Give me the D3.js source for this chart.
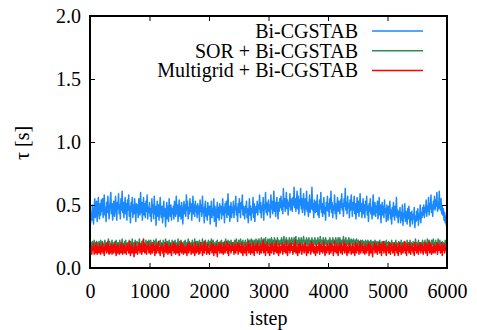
<!DOCTYPE html>
<html>
<head>
<meta charset="utf-8">
<script src="https://cdn.jsdelivr.net/npm/d3@7"></script>
<style>
  html, body { margin: 0; padding: 0; background: #fff; }
  svg { display: block; }
  text { font-family: "Liberation Serif", "Times New Roman", "DejaVu Serif", serif; fill: #000; }
</style>
</head>
<body>
<svg id="chart" width="477" height="330"></svg>
<script>
// Time per step, sampled every 10 steps from 0 to 6000
const stepInterval = 10;
const xTicks = [0, 1000, 2000, 3000, 4000, 5000, 6000];
const yTicks = [0.0, 0.5, 1.0, 1.5, 2.0];
const seriesNames = ["Bi-CGSTAB", "SOR + Bi-CGSTAB", "Multigrid + Bi-CGSTAB"];
const seriesColors = ["#1a88ff", "#2e8b57", "#ff0000"];

const biCgstab = [
  0.32,0.36,0.44,0.38,0.50,0.41,0.35,0.48,0.55,0.40,0.47,0.53,0.37,0.44,0.56,0.46,0.39,0.51,0.42,0.54,
  0.45,0.55,0.40,0.50,0.58,0.42,0.48,0.37,0.52,0.44,0.57,0.49,0.39,0.46,0.54,0.60,0.43,0.51,0.38,0.49,
  0.53,0.41,0.49,0.57,0.45,0.38,0.52,0.47,0.59,0.43,0.50,0.39,0.55,0.46,0.61,0.44,0.52,0.40,0.48,0.56,
  0.43,0.51,0.38,0.54,0.46,0.58,0.41,0.49,0.36,0.52,0.45,0.56,0.40,0.50,0.43,0.55,0.47,0.37,0.51,0.44,
  0.50,0.40,0.55,0.46,0.42,0.60,0.44,0.52,0.38,0.49,0.56,0.42,0.51,0.40,0.53,0.45,0.58,0.39,0.48,0.44,
  0.52,0.41,0.47,0.37,0.55,0.44,0.50,0.39,0.57,0.43,0.49,0.34,0.45,0.53,0.41,0.50,0.38,0.47,0.56,0.43,
  0.40,0.49,0.36,0.45,0.53,0.41,0.47,0.33,0.44,0.52,0.39,0.49,0.37,0.55,0.45,0.41,0.50,0.38,0.47,0.43,
  0.49,0.39,0.53,0.45,0.41,0.57,0.43,0.50,0.37,0.47,0.54,0.41,0.49,0.39,0.52,0.45,0.35,0.47,0.53,0.43,
  0.50,0.41,0.58,0.46,0.53,0.39,0.48,0.43,0.55,0.45,0.51,0.38,0.47,0.57,0.43,0.50,0.41,0.53,0.45,0.49,
  0.40,0.51,0.43,0.49,0.37,0.54,0.45,0.50,0.41,0.57,0.44,0.48,0.36,0.49,0.53,0.41,0.47,0.38,0.52,0.45,
  0.42,0.49,0.35,0.46,0.53,0.40,0.47,0.42,0.55,0.37,0.49,0.44,0.33,0.46,0.52,0.40,0.48,0.38,0.51,0.44,
  0.49,0.39,0.46,0.55,0.42,0.48,0.36,0.51,0.44,0.53,0.40,0.47,0.59,0.42,0.49,0.37,0.46,0.52,0.40,0.48,
  0.44,0.53,0.40,0.49,0.46,0.57,0.42,0.48,0.37,0.51,0.44,0.55,0.46,0.40,0.52,0.47,0.58,0.42,0.49,0.44,
  0.39,0.49,0.44,0.53,0.40,0.47,0.36,0.46,0.55,0.42,0.49,0.38,0.47,0.44,0.56,0.40,0.51,0.37,0.46,0.49,
  0.44,0.53,0.42,0.50,0.47,0.58,0.44,0.52,0.40,0.49,0.46,0.56,0.38,0.50,0.47,0.60,0.44,0.52,0.42,0.49,
  0.54,0.45,0.50,0.40,0.58,0.47,0.53,0.43,0.49,0.61,0.45,0.52,0.41,0.50,0.56,0.47,0.39,0.52,0.45,0.55,
  0.48,0.57,0.46,0.53,0.43,0.63,0.49,0.55,0.45,0.51,0.60,0.47,0.54,0.42,0.52,0.49,0.59,0.46,0.55,0.50,
  0.45,0.56,0.50,0.64,0.48,0.55,0.45,0.52,0.61,0.47,0.57,0.43,0.54,0.50,0.63,0.47,0.55,0.44,0.52,0.59,
  0.48,0.42,0.55,0.47,0.61,0.45,0.52,0.41,0.50,0.58,0.44,0.54,0.47,0.64,0.46,0.51,0.40,0.54,0.49,0.44,
  0.53,0.45,0.58,0.42,0.50,0.40,0.54,0.47,0.60,0.44,0.51,0.41,0.49,0.56,0.43,0.48,0.38,0.52,0.46,0.57,
  0.45,0.51,0.41,0.55,0.47,0.61,0.44,0.52,0.40,0.49,0.46,0.58,0.43,0.51,0.39,0.48,0.56,0.45,0.53,0.49,
  0.43,0.54,0.48,0.59,0.46,0.51,0.41,0.55,0.49,0.63,0.46,0.52,0.43,0.57,0.48,0.51,0.40,0.54,0.46,0.58,
  0.49,0.41,0.52,0.46,0.57,0.43,0.51,0.39,0.48,0.56,0.44,0.53,0.41,0.49,0.59,0.45,0.51,0.40,0.48,0.55,
  0.43,0.50,0.40,0.53,0.46,0.57,0.42,0.49,0.37,0.51,0.45,0.55,0.43,0.48,0.39,0.50,0.58,0.42,0.47,0.52,
  0.41,0.49,0.44,0.53,0.39,0.47,0.56,0.42,0.50,0.36,0.46,0.52,0.42,0.49,0.40,0.54,0.44,0.47,0.37,0.50,
  0.46,0.38,0.49,0.43,0.53,0.39,0.46,0.35,0.48,0.41,0.52,0.44,0.38,0.49,0.42,0.56,0.40,0.46,0.36,0.45,
  0.41,0.48,0.36,0.44,0.38,0.50,0.34,0.43,0.40,0.51,0.37,0.45,0.41,0.35,0.47,0.39,0.49,0.40,0.33,0.44,
  0.38,0.45,0.35,0.42,0.39,0.48,0.32,0.41,0.37,0.45,0.38,0.47,0.34,0.43,0.39,0.50,0.36,0.44,0.40,0.48,
  0.42,0.50,0.40,0.48,0.44,0.54,0.41,0.49,0.45,0.56,0.42,0.51,0.47,0.58,0.44,0.50,0.41,0.53,0.47,0.57,
  0.46,0.54,0.49,0.60,0.45,0.52,0.47,0.61,0.50,0.46,0.55,0.43,0.49,0.42,0.47,0.38,0.44,0.36,0.41,0.34,
  0.31
];

const sorBiCgstab = [
  0.14,0.18,0.20,0.16,0.21,0.17,0.19,0.22,0.16,0.15,0.19,0.21,0.17,0.20,0.15,0.21,0.18,0.16,0.22,0.18,
  0.16,0.21,0.15,0.19,0.17,0.22,0.18,0.15,0.20,0.16,0.19,0.23,0.17,0.21,0.18,0.15,0.19,0.22,0.16,0.20,
  0.18,0.15,0.21,0.16,0.22,0.18,0.16,0.20,0.15,0.19,0.22,0.17,0.20,0.18,0.23,0.16,0.19,0.15,0.21,0.18,
  0.22,0.16,0.19,0.20,0.15,0.18,0.22,0.16,0.21,0.18,0.16,0.23,0.18,0.15,0.20,0.18,0.22,0.16,0.19,0.21,
  0.16,0.20,0.18,0.23,0.16,0.19,0.15,0.21,0.18,0.22,0.16,0.20,0.18,0.15,0.22,0.18,0.16,0.21,0.18,0.22,
  0.18,0.16,0.22,0.18,0.20,0.15,0.18,0.22,0.16,0.21,0.18,0.23,0.16,0.20,0.18,0.15,0.21,0.18,0.22,0.16,
  0.20,0.18,0.15,0.22,0.16,0.20,0.18,0.23,0.16,0.19,0.21,0.15,0.18,0.22,0.16,0.20,0.18,0.16,0.22,0.18,
  0.16,0.21,0.18,0.22,0.15,0.19,0.20,0.16,0.23,0.18,0.16,0.21,0.18,0.22,0.16,0.20,0.15,0.18,0.21,0.16,
  0.22,0.18,0.16,0.20,0.18,0.23,0.16,0.21,0.18,0.15,0.20,0.18,0.22,0.16,0.20,0.18,0.23,0.16,0.19,0.21,
  0.16,0.21,0.18,0.15,0.22,0.18,0.16,0.20,0.18,0.23,0.16,0.19,0.21,0.16,0.22,0.18,0.15,0.20,0.18,0.22,
  0.18,0.16,0.21,0.18,0.23,0.16,0.19,0.22,0.16,0.20,0.18,0.15,0.21,0.18,0.22,0.16,0.20,0.18,0.16,0.21,
  0.18,0.22,0.16,0.20,0.18,0.15,0.21,0.18,0.23,0.16,0.20,0.18,0.22,0.16,0.19,0.21,0.16,0.22,0.18,0.20,
  0.16,0.20,0.18,0.22,0.16,0.20,0.23,0.18,0.20,0.16,0.22,0.18,0.20,0.23,0.18,0.16,0.21,0.22,0.18,0.20,
  0.18,0.22,0.17,0.20,0.18,0.23,0.20,0.17,0.22,0.16,0.20,0.23,0.18,0.22,0.19,0.16,0.22,0.18,0.20,0.23,
  0.19,0.17,0.22,0.19,0.23,0.17,0.21,0.19,0.24,0.17,0.22,0.19,0.23,0.17,0.21,0.24,0.18,0.21,0.17,0.23,
  0.20,0.18,0.23,0.20,0.17,0.24,0.18,0.22,0.20,0.18,0.24,0.19,0.22,0.18,0.20,0.24,0.18,0.22,0.20,0.18,
  0.22,0.19,0.24,0.18,0.22,0.20,0.25,0.18,0.22,0.19,0.24,0.18,0.22,0.20,0.18,0.24,0.19,0.22,0.18,0.24,
  0.19,0.22,0.18,0.24,0.20,0.22,0.25,0.19,0.18,0.22,0.20,0.24,0.18,0.22,0.19,0.24,0.18,0.20,0.22,0.25,
  0.20,0.18,0.22,0.19,0.24,0.18,0.22,0.20,0.24,0.18,0.20,0.22,0.18,0.24,0.19,0.22,0.18,0.20,0.24,0.19,
  0.22,0.18,0.20,0.24,0.19,0.22,0.18,0.25,0.20,0.22,0.18,0.20,0.24,0.18,0.22,0.19,0.24,0.18,0.22,0.20,
  0.18,0.22,0.20,0.24,0.18,0.22,0.19,0.18,0.24,0.20,0.22,0.18,0.20,0.24,0.18,0.22,0.19,0.24,0.18,0.20,
  0.24,0.19,0.22,0.18,0.22,0.20,0.25,0.18,0.22,0.19,0.24,0.18,0.20,0.22,0.18,0.24,0.19,0.22,0.18,0.23,
  0.20,0.22,0.18,0.23,0.20,0.18,0.22,0.19,0.23,0.18,0.20,0.22,0.17,0.21,0.19,0.22,0.20,0.17,0.22,0.19,
  0.21,0.17,0.19,0.22,0.18,0.21,0.17,0.22,0.19,0.21,0.17,0.19,0.22,0.17,0.21,0.19,0.17,0.21,0.19,0.22,
  0.17,0.21,0.19,0.16,0.21,0.18,0.19,0.22,0.17,0.20,0.16,0.21,0.18,0.20,0.16,0.21,0.18,0.19,0.22,0.17,
  0.20,0.16,0.21,0.18,0.20,0.16,0.18,0.22,0.16,0.20,0.18,0.15,0.20,0.18,0.22,0.16,0.20,0.18,0.16,0.21,
  0.18,0.20,0.16,0.22,0.18,0.15,0.20,0.18,0.21,0.16,0.20,0.18,0.16,0.22,0.18,0.20,0.16,0.18,0.22,0.16,
  0.20,0.18,0.16,0.21,0.18,0.20,0.16,0.23,0.18,0.20,0.16,0.18,0.22,0.16,0.20,0.18,0.15,0.20,0.18,0.22,
  0.16,0.20,0.18,0.22,0.16,0.20,0.18,0.23,0.16,0.18,0.22,0.18,0.20,0.16,0.22,0.18,0.20,0.23,0.18,0.20,
  0.18,0.22,0.16,0.20,0.18,0.23,0.20,0.16,0.22,0.18,0.20,0.16,0.21,0.18,0.20,0.16,0.18,0.22,0.16,0.20,
  0.18
];

const multigridBiCgstab = [
  0.09,0.12,0.17,0.11,0.16,0.14,0.19,0.11,0.16,0.12,0.20,0.14,0.11,0.17,0.15,0.12,0.19,0.14,0.11,0.17,
  0.13,0.20,0.12,0.16,0.10,0.17,0.14,0.19,0.12,0.15,0.21,0.13,0.11,0.17,0.12,0.16,0.19,0.11,0.14,0.18,
  0.12,0.16,0.20,0.13,0.10,0.17,0.12,0.19,0.15,0.11,0.14,0.18,0.12,0.20,0.14,0.11,0.16,0.19,0.12,0.17,
  0.15,0.11,0.19,0.14,0.17,0.12,0.21,0.13,0.10,0.16,0.19,0.12,0.17,0.14,0.09,0.16,0.20,0.12,0.17,0.14,
  0.11,0.17,0.14,0.20,0.12,0.16,0.19,0.11,0.17,0.13,0.23,0.15,0.12,0.19,0.14,0.11,0.17,0.15,0.20,0.12,
  0.17,0.13,0.11,0.19,0.15,0.12,0.20,0.14,0.17,0.10,0.16,0.19,0.12,0.17,0.14,0.21,0.12,0.16,0.10,0.17,
  0.14,0.19,0.12,0.16,0.09,0.17,0.13,0.20,0.12,0.16,0.19,0.11,0.17,0.14,0.12,0.19,0.15,0.10,0.17,0.14,
  0.20,0.12,0.16,0.19,0.11,0.17,0.14,0.12,0.19,0.15,0.10,0.17,0.13,0.21,0.12,0.16,0.19,0.11,0.17,0.14,
  0.12,0.17,0.14,0.10,0.19,0.15,0.12,0.20,0.14,0.17,0.11,0.16,0.19,0.12,0.17,0.14,0.10,0.20,0.15,0.12,
  0.17,0.13,0.19,0.11,0.16,0.12,0.20,0.14,0.17,0.10,0.15,0.19,0.12,0.21,0.14,0.17,0.11,0.16,0.19,0.12,
  0.15,0.11,0.17,0.14,0.20,0.12,0.16,0.19,0.10,0.17,0.14,0.12,0.19,0.15,0.09,0.17,0.14,0.20,0.12,0.16,
  0.19,0.12,0.17,0.14,0.11,0.20,0.15,0.12,0.17,0.14,0.21,0.12,0.16,0.10,0.19,0.14,0.17,0.12,0.15,0.20,
  0.14,0.17,0.11,0.15,0.19,0.12,0.17,0.14,0.20,0.11,0.16,0.19,0.13,0.17,0.12,0.20,0.15,0.10,0.17,0.14,
  0.12,0.19,0.15,0.10,0.17,0.14,0.21,0.12,0.16,0.19,0.11,0.17,0.14,0.12,0.20,0.15,0.10,0.17,0.14,0.19,
  0.15,0.12,0.20,0.14,0.17,0.11,0.16,0.19,0.12,0.17,0.14,0.22,0.12,0.16,0.19,0.10,0.17,0.14,0.20,0.12,
  0.17,0.14,0.10,0.19,0.15,0.12,0.20,0.14,0.17,0.11,0.16,0.19,0.13,0.21,0.12,0.17,0.14,0.10,0.19,0.15,
  0.12,0.17,0.14,0.20,0.11,0.16,0.19,0.13,0.17,0.12,0.21,0.15,0.10,0.17,0.14,0.19,0.12,0.16,0.20,0.14,
  0.17,0.11,0.15,0.19,0.13,0.22,0.12,0.17,0.14,0.10,0.19,0.15,0.12,0.20,0.14,0.17,0.11,0.16,0.19,0.14,
  0.12,0.17,0.20,0.14,0.10,0.17,0.15,0.12,0.19,0.14,0.17,0.11,0.21,0.13,0.16,0.19,0.12,0.17,0.14,0.10,
  0.19,0.15,0.12,0.17,0.14,0.20,0.11,0.16,0.19,0.13,0.17,0.12,0.15,0.21,0.14,0.10,0.17,0.15,0.12,0.19,
  0.14,0.17,0.11,0.20,0.15,0.12,0.19,0.14,0.17,0.10,0.16,0.21,0.13,0.17,0.12,0.19,0.15,0.10,0.17,0.14,
  0.20,0.12,0.16,0.19,0.11,0.17,0.14,0.21,0.12,0.16,0.19,0.13,0.10,0.17,0.15,0.12,0.20,0.14,0.17,0.11,
  0.15,0.19,0.12,0.17,0.14,0.10,0.20,0.15,0.12,0.19,0.14,0.17,0.11,0.16,0.21,0.12,0.17,0.14,0.19,0.12,
  0.17,0.14,0.11,0.19,0.15,0.12,0.17,0.14,0.20,0.10,0.16,0.19,0.12,0.17,0.14,0.09,0.17,0.15,0.20,0.12,
  0.15,0.19,0.13,0.11,0.17,0.14,0.20,0.12,0.16,0.19,0.10,0.17,0.14,0.21,0.12,0.16,0.19,0.13,0.10,0.17,
  0.14,0.17,0.12,0.20,0.15,0.11,0.19,0.14,0.17,0.12,0.16,0.20,0.10,0.17,0.14,0.19,0.12,0.16,0.10,0.17,
  0.20,0.13,0.17,0.11,0.15,0.19,0.12,0.17,0.14,0.21,0.12,0.16,0.10,0.19,0.14,0.17,0.12,0.20,0.15,0.11,
  0.17,0.14,0.19,0.12,0.16,0.10,0.20,0.14,0.17,0.12,0.15,0.19,0.11,0.17,0.14,0.20,0.12,0.16,0.19,0.14,
  0.11,0.17,0.14,0.20,0.12,0.16,0.19,0.10,0.17,0.14,0.21,0.12,0.16,0.19,0.11,0.17,0.14,0.12,0.19,0.15,
  0.12,0.17,0.14,0.20,0.11,0.16,0.19,0.14,0.17,0.12,0.15,0.20,0.10,0.17,0.14,0.19,0.12,0.16,0.18,0.14,
  0.14
];

const seriesValues = [biCgstab, sorBiCgstab, multigridBiCgstab];

const svg = d3.select("#chart");
const margin = { left: 90, right: 30, top: 16, bottom: 62 };
const W = 477, H = 330;

const x = d3.scaleLinear().domain([0, 6000]).range([margin.left, W - margin.right]);
const y = d3.scaleLinear().domain([0, 2.0]).range([H - margin.bottom, margin.top]);

svg.append("defs").append("clipPath").attr("id", "plotClip")
  .append("rect")
  .attr("x", x(0)).attr("y", y(2.0))
  .attr("width", x(6000) - x(0)).attr("height", y(0) - y(2.0));

// Series lines
const line = d3.line()
  .x((d, i) => x(i * stepInterval))
  .y(d => y(d));

const plot = svg.append("g").attr("clip-path", "url(#plotClip)");
seriesValues.forEach((vals, k) => {
  plot.append("path")
    .datum(vals)
    .attr("fill", "none")
    .attr("stroke", seriesColors[k])
    .attr("stroke-width", 1.5)
    .attr("stroke-linejoin", "round")
    .attr("d", line);
});

// Axes: inward ticks on all four sides, labels on bottom and left
const tickLen = 5;
const fontStack = "'Liberation Serif', 'Times New Roman', 'DejaVu Serif', serif";
const axisFont = "20px";

const axisBottomG = svg.append("g")
  .attr("transform", `translate(0,${y(0)})`)
  .call(d3.axisBottom(x).tickValues(xTicks).tickSize(-tickLen).tickPadding(16).tickFormat(d3.format("d")));
const axisTopG = svg.append("g")
  .attr("transform", `translate(0,${y(2.0)})`)
  .call(d3.axisTop(x).tickValues(xTicks).tickSize(-tickLen).tickFormat(""));
const axisLeftG = svg.append("g")
  .attr("transform", `translate(${x(0)},0)`)
  .call(d3.axisLeft(y).tickValues(yTicks).tickSize(-tickLen).tickPadding(9).tickFormat(d3.format(".1f")));
const axisRightG = svg.append("g")
  .attr("transform", `translate(${x(6000)},0)`)
  .call(d3.axisRight(y).tickValues(yTicks).tickSize(-tickLen).tickFormat(""));

[axisBottomG, axisTopG, axisLeftG, axisRightG].forEach(g => {
  g.attr("font-family", null);
  g.select(".domain").remove();
  g.selectAll(".tick line").attr("stroke", "#000").attr("stroke-width", 1);
  g.selectAll(".tick text")
    .style("font-family", fontStack)
    .style("font-size", axisFont)
    .attr("fill", "#000");
});

// Frame
svg.append("rect")
  .attr("x", x(0)).attr("y", y(2.0))
  .attr("width", x(6000) - x(0)).attr("height", y(0) - y(2.0))
  .attr("fill", "none").attr("stroke", "#000").attr("stroke-width", 2);

// Axis titles
svg.append("text")
  .attr("x", (x(0) + x(6000)) / 2).attr("y", 325)
  .attr("text-anchor", "middle")
  .style("font-family", fontStack)
  .style("font-size", axisFont)
  .text("istep");

svg.append("text")
  .attr("transform", `translate(29,${y(1.0) + 1}) rotate(-90)`)
  .attr("text-anchor", "middle")
  .style("font-family", fontStack)
  .style("font-size", axisFont)
  .text("τ [s]");

// Legend
const legend = svg.append("g");
seriesNames.forEach((name, k) => {
  const cy = 31 + k * 19.7;
  legend.append("text")
    .attr("x", 358).attr("y", cy)
    .attr("dy", "0.35em")
    .attr("text-anchor", "end")
    .style("font-family", fontStack)
    .style("font-size", axisFont)
    .text(name);
  legend.append("line")
    .attr("x1", 372).attr("x2", 423)
    .attr("y1", cy).attr("y2", cy)
    .attr("stroke", seriesColors[k]).attr("stroke-width", 1.5);
});
</script>
</body>
</html>
